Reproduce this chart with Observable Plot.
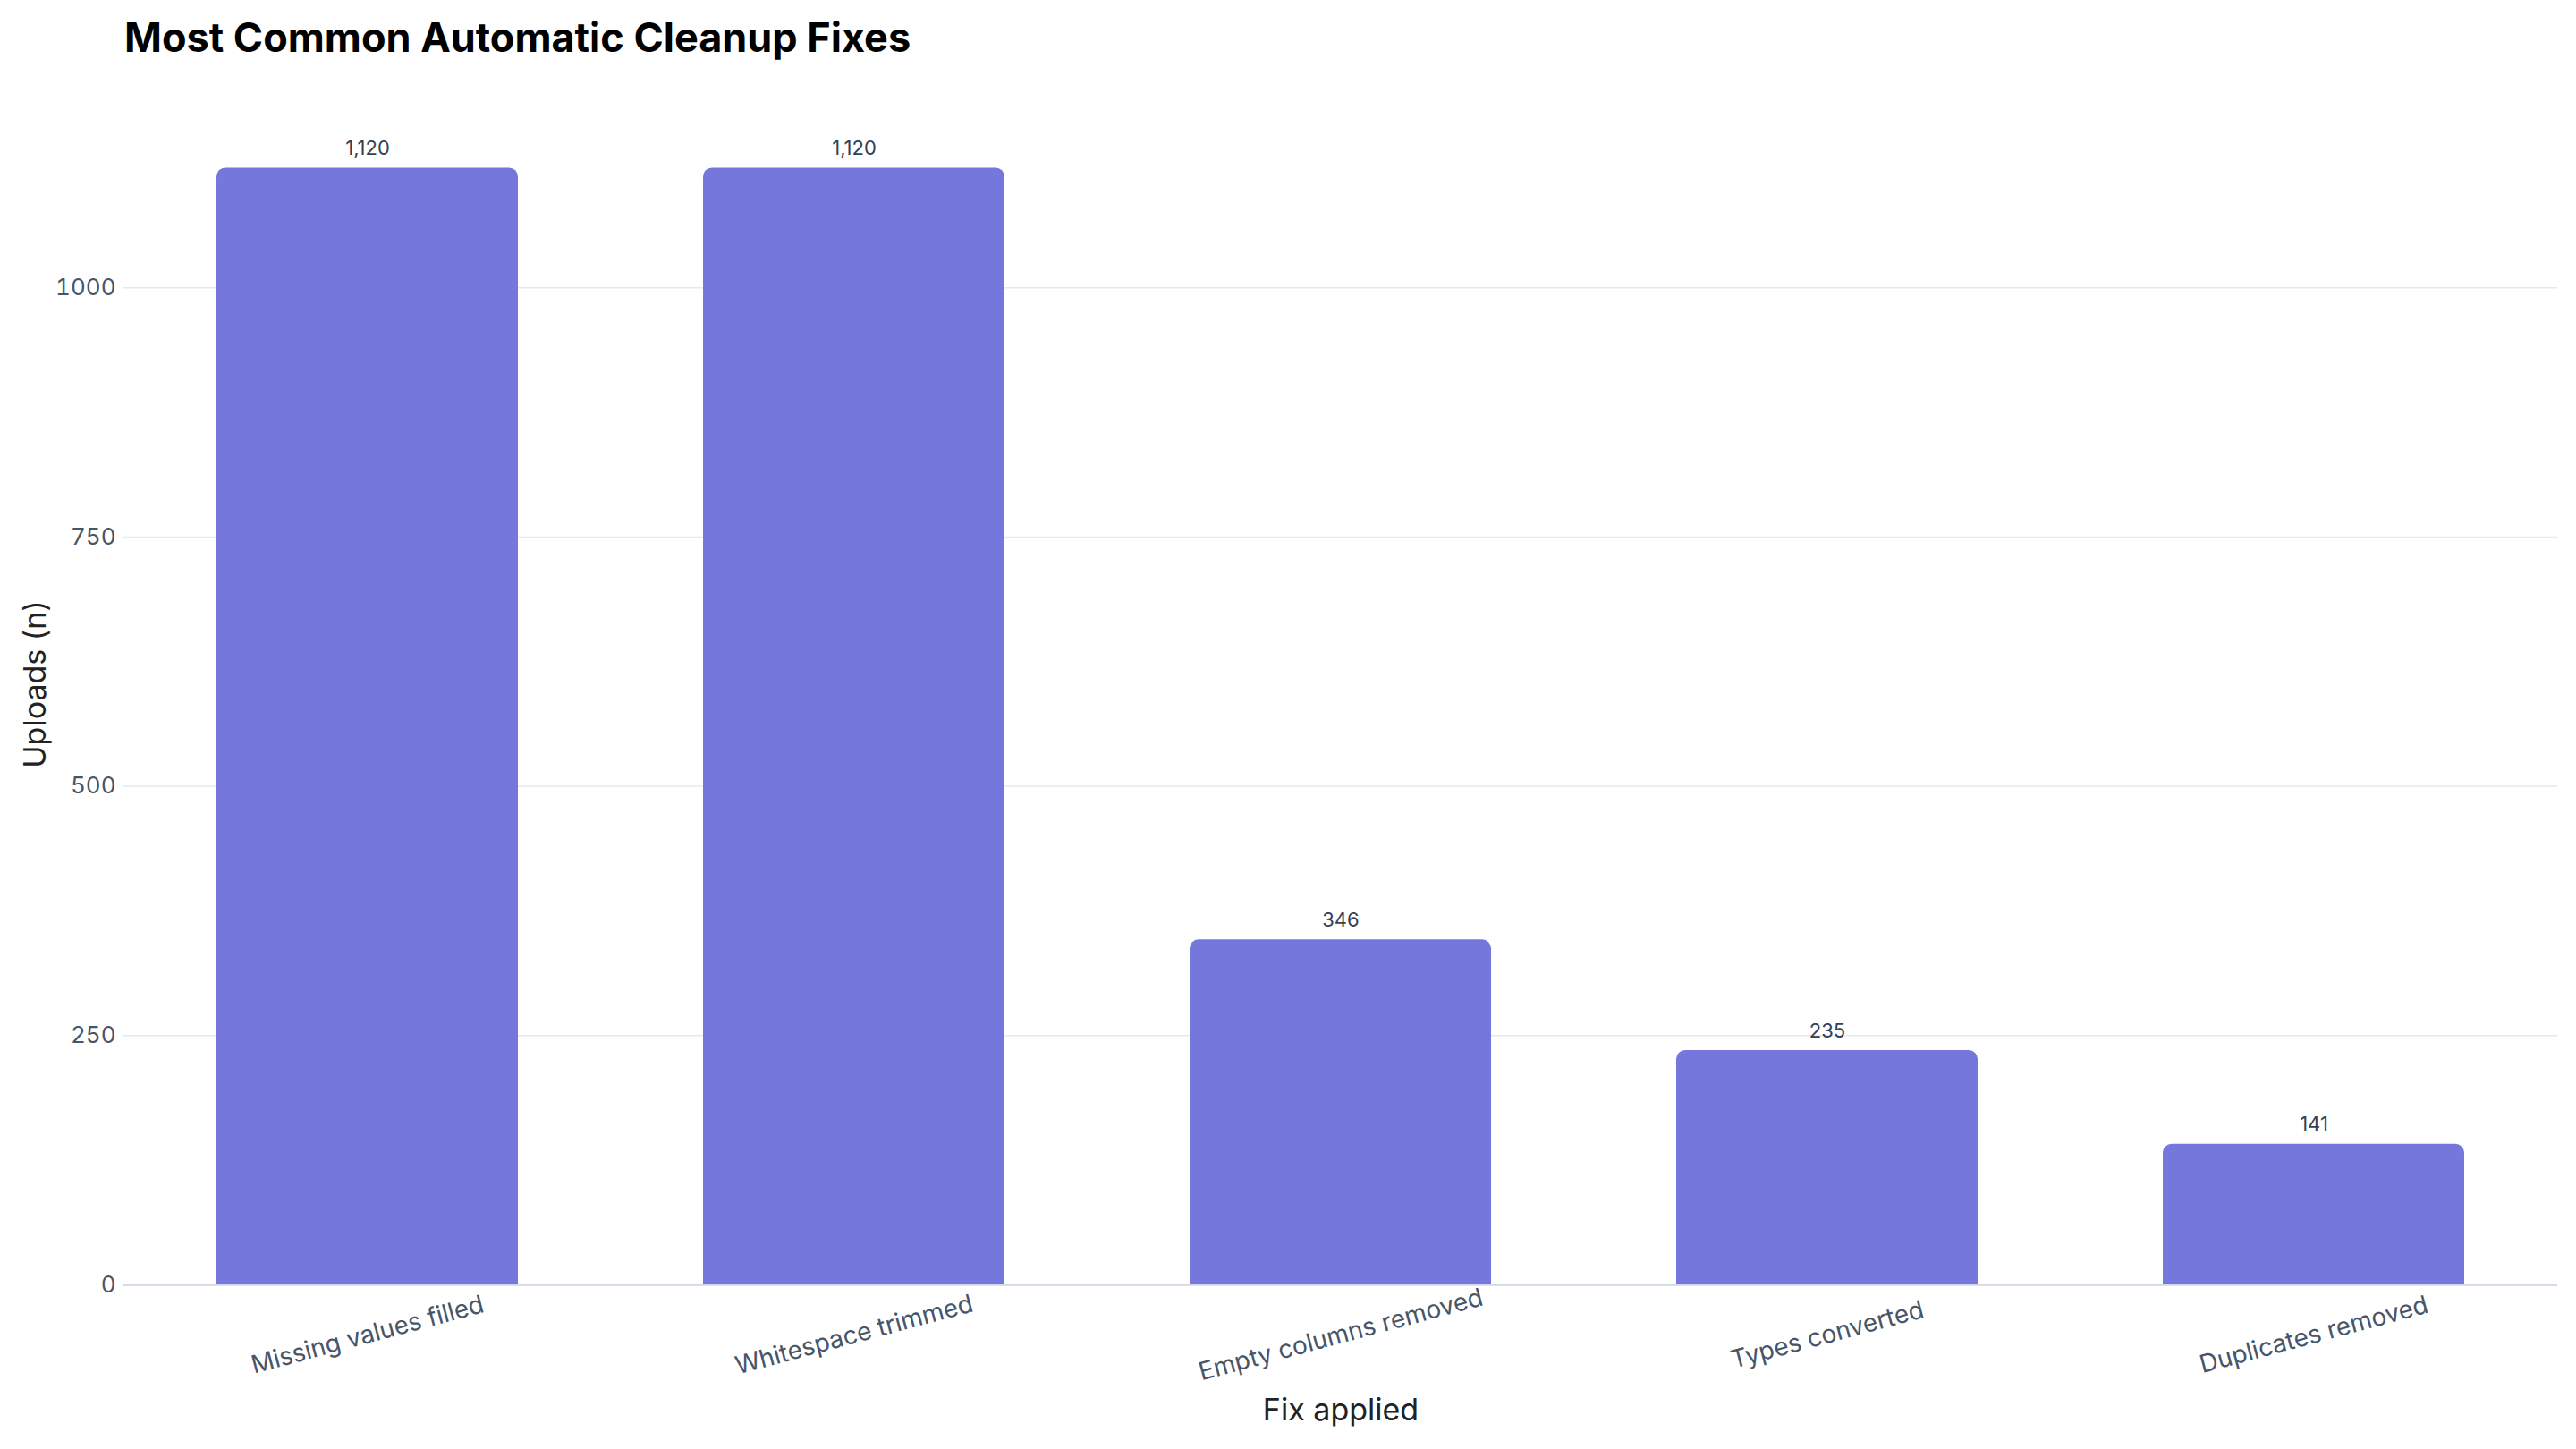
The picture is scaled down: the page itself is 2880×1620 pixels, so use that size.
<!DOCTYPE html>
<html>
<head>
<meta charset="utf-8">
<script src="https://cdn.jsdelivr.net/npm/d3@7"></script>
<script src="https://cdn.jsdelivr.net/npm/@observablehq/plot@0.6"></script>
<style>
  html, body { margin: 0; padding: 0; background: #ffffff; }
  body { font-family: Inter, "Noto Sans", sans-serif; }
  #wrap { position: relative; width: 2880px; height: 1620px; }
  #title { position: absolute; left: 139px; top: 19px; font-size: 45px; font-weight: 700; color: #000; line-height: 1; white-space: nowrap; }
  #chart { position: absolute; left: 0; top: 0; }
</style>
</head>
<body>
<div id="wrap">
  <div id="chart"></div>
  <div id="title">Most Common Automatic Cleanup Fixes</div>
</div>
<script>
const fixes = ["Missing values filled", "Whitespace trimmed", "Empty columns removed", "Types converted", "Duplicates removed"];
const uploads = [1120, 1120, 346, 235, 141];
const yTicks = [0, 250, 500, 750, 1000];
const xTitle = "Fix applied";
const yTitle = "Uploads (n)";

const data = fixes.map((f, i) => ({fix: f, n: uploads[i]}));
const fmt = d3.format(",");

const chart = Plot.plot({
  width: 2880,
  height: 1620,
  marginLeft: 138,
  marginRight: 21,
  marginTop: 125,
  marginBottom: 184,
  style: {fontFamily: "Inter, 'Noto Sans', sans-serif", background: "transparent", overflow: "visible"},
  x: {domain: fixes, paddingInner: 0.38, paddingOuter: 0.19, axis: null},
  y: {domain: [0, 1176], nice: false, axis: null},
  marks: [
    Plot.gridY(yTicks.filter(d => d > 0), {stroke: "#e6eaf0", strokeOpacity: 1, strokeWidth: 1.5}),
    Plot.barY(data, {x: "fix", y: "n", fill: "#7677dd", ry1: 10}),
    Plot.ruleY([0], {stroke: "#d0d9e5", strokeWidth: 2.5}),
    Plot.axisY(yTicks, {tickSize: 0, tickPadding: 9, fontSize: 26, fill: "#475569", label: null, tickFormat: d => String(d)}),
    Plot.text(data, {x: "fix", frameAnchor: "bottom", text: "fix", rotate: -15, dy: 56, fontSize: 28, fill: "#475569", textAnchor: "middle", lineAnchor: "middle"}),
    Plot.text(data, {x: "fix", y: "n", text: d => fmt(d.n), dy: -15, lineAnchor: "bottom", fontSize: 22, fill: "#334155"}),
    Plot.text([xTitle], {text: d => d, frameAnchor: "bottom", dy: 141, fontSize: 34, fill: "#222222", textAnchor: "middle", lineAnchor: "middle"}),
    Plot.text([yTitle], {text: d => d, frameAnchor: "left", dx: -98, dy: -16, rotate: -90, fontSize: 34, fill: "#222222", textAnchor: "middle", lineAnchor: "middle"})
  ]
});
document.getElementById("chart").appendChild(chart);
</script>
</body>
</html>
